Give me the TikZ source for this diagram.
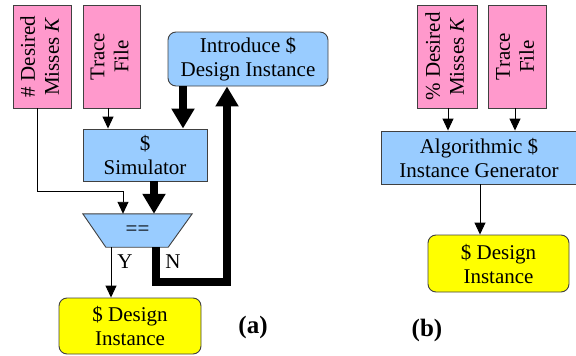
\documentclass[tikz,border=0pt]{standalone}
\usepackage{fontspec}
\setmainfont{Liberation Serif}
\usetikzlibrary{arrows.meta,calc,backgrounds}
\definecolor{pinkc}{HTML}{FF99CC}
\definecolor{bluec}{HTML}{99CCFF}
\definecolor{yelc}{HTML}{FFFF00}
\definecolor{edgec}{HTML}{404040}
\begin{document}
\begin{tikzpicture}[x=1pt,y=-1pt,
  every node/.style={font=\fontsize{21}{24}\selectfont, inner sep=0pt},
  box/.style={draw=edgec, line width=0.9pt, align=center},
  inbox/.style={box, fill=pinkc},
  procbox/.style={box, fill=bluec},
  outbox/.style={box, fill=yelc, rounded corners=8pt},
  thinarrow/.style={line width=0.9pt, -{Triangle[width=11pt,length=12pt]}},
  thickarrow/.style={line width=7.5pt, line join=miter, -{Triangle[width=22pt,length=20pt]}},
  tag/.style={font=\fontsize{25}{30}\selectfont\bfseries},
]
\useasboundingbox (0,0) rectangle (576,356);

% ---------- (a) ----------
\node[inbox, minimum width=58pt, minimum height=103pt] (ka) at (42,56.5)
  {\rotatebox{90}{\begin{tabular}{@{}c@{}}\# Desired\\Misses \textit{K}\end{tabular}}};
\node[inbox, minimum width=57pt, minimum height=103pt] (ta) at (111.5,56.5)
  {\rotatebox{90}{\begin{tabular}{@{}c@{}}Trace\\File\end{tabular}}};
\node[procbox, rounded corners=8pt, minimum width=160pt, minimum height=54pt] (intro) at (248,59)
  {Introduce \$\\Design Instance};
\node[procbox, minimum width=124pt, minimum height=52pt] (sim) at (145,155) {\$\\Simulator};
\node[minimum width=109pt, minimum height=33pt] (cmp) at (137.5,230.5) {==};
\begin{scope}[on background layer]
\draw[box, fill=bluec] (cmp.north west) -- (cmp.north east) -- ($(cmp.south east)+(-24,0)$)
  -- ($(cmp.south west)+(23,0)$) -- cycle;
\end{scope}
\node[outbox, minimum width=142pt, minimum height=56pt] (da) at (130,326) {\$ Design\\Instance};

\draw[thinarrow] ($(ka.south)+(-5,0)$) |- ($(cmp.north)+(-14.5,-22)$) -- ($(cmp.north)+(-14.5,0)$);
\draw[thinarrow] ($(ta.south)+(-3.5,0)$) -- ($(sim.north)+(-37,0)$);
\draw[thickarrow] ($(intro.south)+(-65,0)$) -- ($(sim.north)+(38,0)$);
\draw[thickarrow] ($(sim.south)+(9,0)$) -- ($(cmp.north)+(16.5,0)$);
\draw[thinarrow] ($(cmp.south)+(-26.5,0)$) -- ($(da.north)+(-19,0)$);
\draw[thickarrow] ($(cmp.south)+(18.5,0)$) -- ++(0,35) -| ($(intro.south)+(-21,0)$);
\node (ly) at (125,262) {Y};
\node (ln) at (173,262) {N};
\node[tag] (la) at (253,327) {(a)};

% ---------- (b) ----------
\node[inbox, minimum width=60pt, minimum height=103pt] (kb) at (447,56.5)
  {\rotatebox{90}{\begin{tabular}{@{}c@{}}\% Desired\\Misses \textit{K}\end{tabular}}};
\node[inbox, minimum width=58pt, minimum height=103pt] (tb) at (517,56.5)
  {\rotatebox{90}{\begin{tabular}{@{}c@{}}Trace\\File\end{tabular}}};
\node[procbox, minimum width=196pt, minimum height=53pt] (gen) at (479,157.5)
  {Algorithmic \$\\Instance Generator};
\node[outbox, minimum width=141pt, minimum height=57pt] (db) at (498.5,263.5) {\$ Design\\Instance};
\draw[thinarrow] ($(kb.south)+(1,0)$) -- ($(gen.north)+(-31,0)$);
\draw[thinarrow] ($(tb.south)+(-2,0)$) -- ($(gen.north)+(36,0)$);
\draw[thinarrow] ($(gen.south)+(1,0)$) -- ($(db.north)+(-18.5,0)$);
\node[tag] (lb) at (427,330) {(b)};
\end{tikzpicture}
\end{document}
